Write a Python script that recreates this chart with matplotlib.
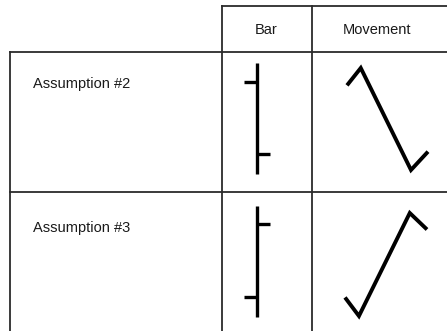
import matplotlib
matplotlib.use("Agg")
import matplotlib.pyplot as plt

# ---------------------------------------------------------------
# Data
# ---------------------------------------------------------------
row_labels = ['Assumption #2', 'Assumption #3']
col_labels = ['Bar', 'Movement']

opens = [8.3, 1.8]
highs = [10.0, 10.0]
lows = [0.0, 0.0]
closes = [1.8, 8.4]

# intrabar time of the 4 path points (open, 1st extreme, 2nd extreme, close)
move_time = [0.0, 0.17, 0.79, 1.0]

# ---------------------------------------------------------------
# Layout (pixels)
# ---------------------------------------------------------------
W, H = 447, 331
plt.rcParams['font.family'] = ['Liberation Sans', 'DejaVu Sans']

fig = plt.figure(figsize=(W / 100, H / 100), dpi=100)
ax = fig.add_axes([0, 0, 1, 1])
ax.set_xlim(0, W)
ax.set_ylim(H, 0)
ax.axis('off')

grid_col = '#2b2b2b'
grid_lw = 1.3
txt_size = 10.5
txt_col = '#1a1a1a'

# table lines
ax.plot([222, W], [6, 6], color=grid_col, lw=grid_lw)
ax.plot([10, W], [52, 52], color=grid_col, lw=grid_lw)
ax.plot([10, W], [192, 192], color=grid_col, lw=grid_lw)
ax.plot([10, 10], [52, H], color=grid_col, lw=grid_lw)
ax.plot([222, 222], [6, H], color=grid_col, lw=grid_lw)
ax.plot([312, 312], [6, H], color=grid_col, lw=grid_lw)

# header text
ax.text(266, 30, col_labels[0], ha='center', va='center', fontsize=txt_size, color=txt_col)
ax.text(377, 30, col_labels[1], ha='center', va='center', fontsize=txt_size, color=txt_col)

row_text_y = [84, 228]
for lab, ty in zip(row_labels, row_text_y):
    ax.text(33, ty, lab, ha='left', va='center', fontsize=txt_size, color=txt_col)


def box(x0, y0, x1, y1):
    return [x0 / W, 1 - y1 / H, (x1 - x0) / W, (y1 - y0) / H]


bar_boxes = [(244, 63, 270, 174), (244, 206, 270, 317)]
move_boxes = [(347, 68, 428, 170), (345, 213, 427, 316)]

for i in range(len(row_labels)):
    # OHLC bar
    bx = fig.add_axes(box(*bar_boxes[i]))
    bx.set_xlim(-1, 1)
    bx.set_ylim(lows[i], highs[i])
    bx.axis('off')
    bx.vlines(0, lows[i], highs[i], color='black', lw=2.4, clip_on=False)
    bx.hlines(opens[i], -1, 0, color='black', lw=2.4, clip_on=False)
    bx.hlines(closes[i], 0, 1, color='black', lw=2.4, clip_on=False)

    # price movement within the bar
    mx = fig.add_axes(box(*move_boxes[i]))
    mx.set_xlim(0, 1)
    mx.set_ylim(lows[i], highs[i])
    mx.axis('off')
    if closes[i] < opens[i]:
        path = [opens[i], highs[i], lows[i], closes[i]]
    else:
        path = [opens[i], lows[i], highs[i], closes[i]]
    mx.plot(move_time, path, color='black', lw=2.8, clip_on=False,
            solid_joinstyle='miter', solid_capstyle='butt')

fig.savefig('out.png', dpi=100)
